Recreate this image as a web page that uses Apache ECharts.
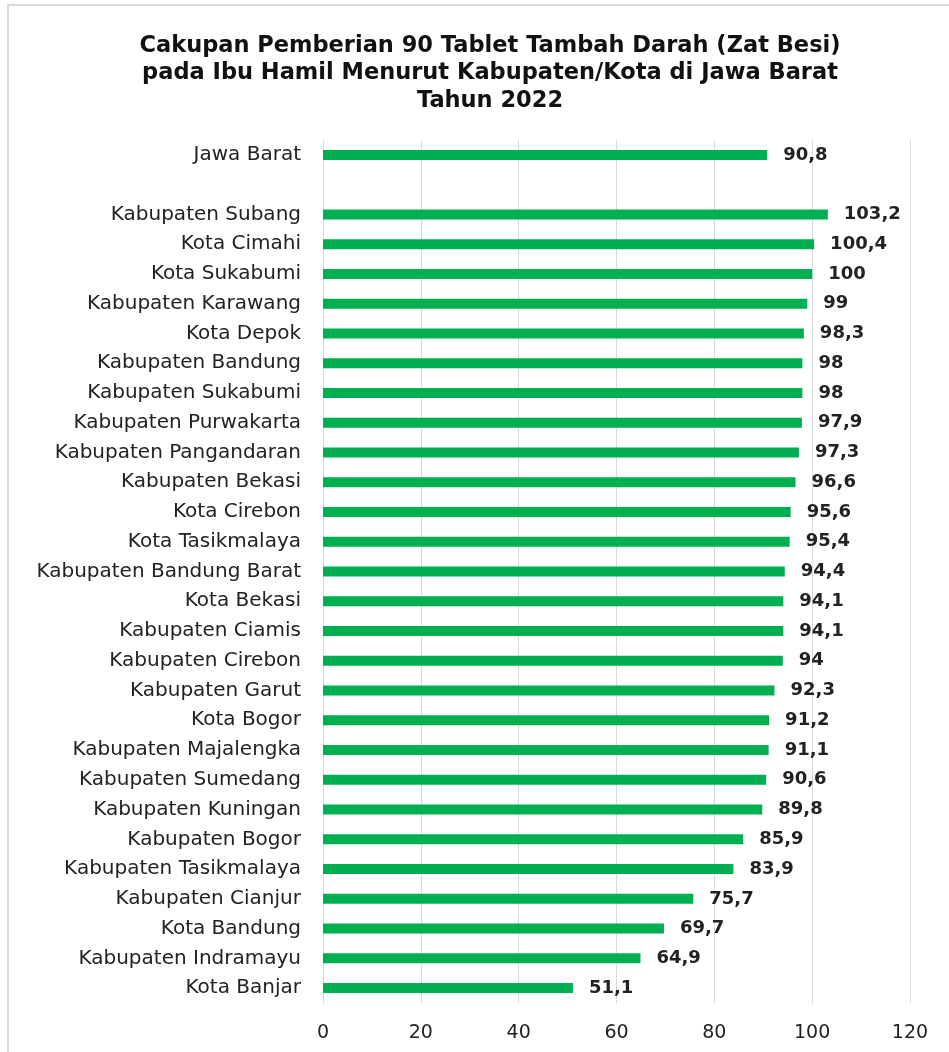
<!DOCTYPE html>
<html>
<head>
<meta charset="utf-8">
<script src="https://cdn.jsdelivr.net/npm/echarts@6/dist/echarts.min.js"></script>
<style>
  html, body { margin: 0; padding: 0; background: #fff; }
  #wrap { position: relative; width: 949px; height: 1052px; overflow: hidden; }
  #frame { position: absolute; left: 7px; top: 4px; width: 960px; height: 1100px; border-top: 2px solid #d9d9d9; border-left: 2px solid #d9d9d9; box-sizing: border-box; }
  #chart { position: absolute; left: 0; top: 0; width: 949px; height: 1052px; }
</style>
</head>
<body>
<div id="wrap">
  <div id="frame"></div>
  <div id="chart"></div>
</div>
<script>
const titleText = 'Cakupan Pemberian 90 Tablet Tambah Darah (Zat Besi)\npada Ibu Hamil Menurut Kabupaten/Kota di Jawa Barat\nTahun 2022';

const categories = [
  'Jawa Barat', '',
  'Kabupaten Subang', 'Kota Cimahi', 'Kota Sukabumi', 'Kabupaten Karawang', 'Kota Depok',
  'Kabupaten Bandung', 'Kabupaten Sukabumi', 'Kabupaten Purwakarta', 'Kabupaten Pangandaran',
  'Kabupaten Bekasi', 'Kota Cirebon', 'Kota Tasikmalaya', 'Kabupaten Bandung Barat', 'Kota Bekasi',
  'Kabupaten Ciamis', 'Kabupaten Cirebon', 'Kabupaten Garut', 'Kota Bogor', 'Kabupaten Majalengka',
  'Kabupaten Sumedang', 'Kabupaten Kuningan', 'Kabupaten Bogor', 'Kabupaten Tasikmalaya',
  'Kabupaten Cianjur', 'Kota Bandung', 'Kabupaten Indramayu', 'Kota Banjar'
];

const values = [
  90.8, null,
  103.2, 100.4, 100, 99, 98.3,
  98, 98, 97.9, 97.3,
  96.6, 95.6, 95.4, 94.4, 94.1,
  94.1, 94, 92.3, 91.2, 91.1,
  90.6, 89.8, 85.9, 83.9,
  75.7, 69.7, 64.9, 51.1
];

const xTicks = { min: 0, max: 120, interval: 20 };

const chart = echarts.init(document.getElementById('chart'), null, { renderer: 'canvas' });
chart.setOption({
  animation: false,
  backgroundColor: 'transparent',
  title: {
    text: titleText,
    left: 485,
    top: 27,
    textAlign: 'center',
    textStyle: {
      fontFamily: 'DejaVu Sans',
      fontSize: 22.5,
      fontWeight: 'bold',
      lineHeight: 27.5,
      color: '#111'
    }
  },
  grid: { left: 323, right: 39, top: 140, bottom: 49, containLabel: false },
  xAxis: {
    type: 'value',
    min: xTicks.min, max: xTicks.max, interval: xTicks.interval,
    axisLine: { show: false },
    axisTick: { show: false },
    splitLine: { show: true, lineStyle: { color: '#d9d9d9', width: 1 } },
    axisLabel: { margin: 21, fontFamily: 'DejaVu Sans', fontSize: 19, color: '#222' }
  },
  yAxis: {
    type: 'category',
    data: categories,
    inverse: true,
    axisLine: { show: false },
    axisTick: { show: false },
    axisLabel: { margin: 22, fontFamily: 'DejaVu Sans', fontSize: 20, color: '#222' }
  },
  series: [{
    type: 'bar',
    data: values,
    barWidth: 10,
    itemStyle: { color: '#00B050' },
    label: {
      show: true,
      position: 'right',
      distance: 16,
      fontFamily: 'DejaVu Sans',
      fontSize: 18,
      fontWeight: 'bold',
      color: '#222',
      formatter: p => (p.value == null ? '' : String(p.value).replace('.', ','))
    }
  }]
});
</script>
</body>
</html>
